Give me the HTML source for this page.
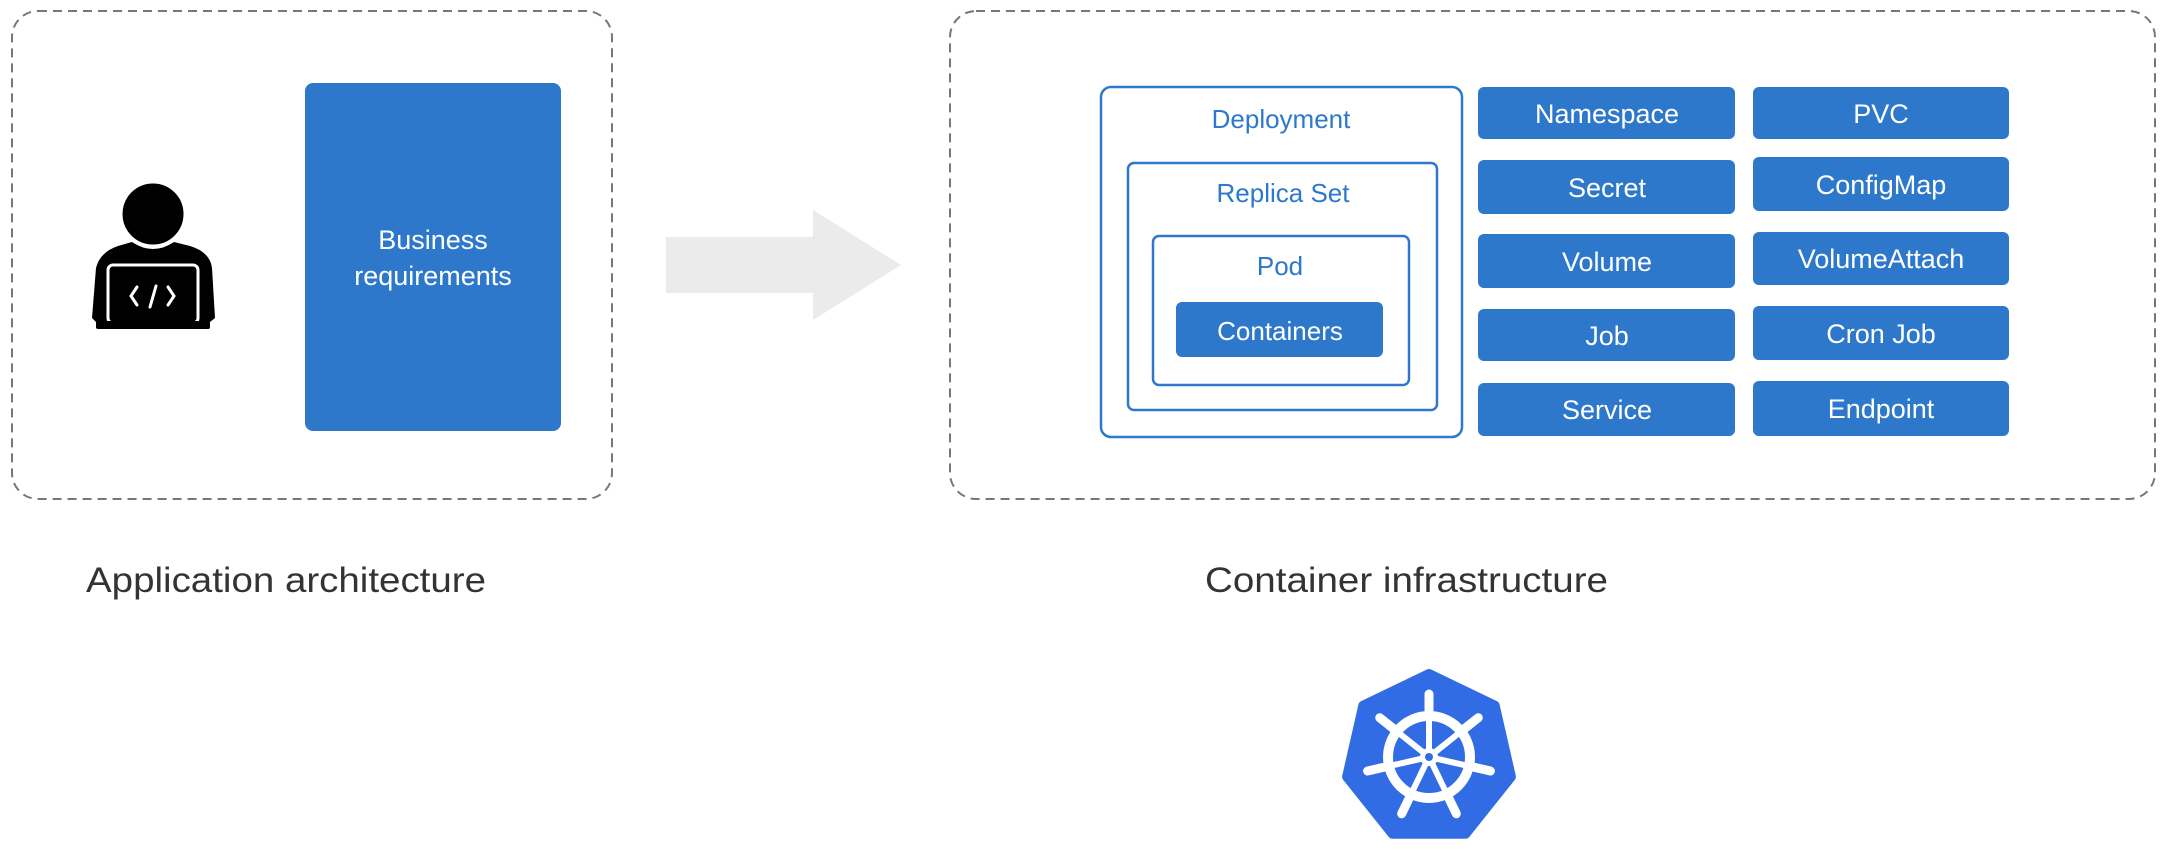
<!DOCTYPE html>
<html><head><meta charset="utf-8"><style>
html,body{margin:0;padding:0;background:#fff;}
body{width:2162px;height:848px;overflow:hidden;}
svg text{font-family:"Liberation Sans",sans-serif;}
</style></head><body>
<svg width="2162" height="848" viewBox="0 0 2162 848" xmlns="http://www.w3.org/2000/svg">
<rect x="12" y="11" width="600" height="488" rx="26" fill="none" stroke="#777" stroke-width="2" stroke-dasharray="9,6"/>
<rect x="950" y="11" width="1205" height="488" rx="26" fill="none" stroke="#777" stroke-width="2" stroke-dasharray="9,6"/>

<circle cx="153" cy="214" r="32" fill="#000" stroke="#fff" stroke-width="3"/>
<path d="M92,318 L96,268 Q100,252 118,246 L132,242 Q153,256 174,242 L190,246 Q210,252 212,268 L215,318 L205,326 L100,326 Z" fill="#000"/>
<rect x="108" y="265" width="90" height="58" rx="5" fill="#000" stroke="#fff" stroke-width="3"/>
<rect x="96" y="321" width="114" height="8" rx="2" fill="#000"/>
<g stroke="#fff" stroke-width="3" fill="none" stroke-linecap="round">
<polyline points="137,287 131,296 137,305"/>
<line x1="156" y1="286" x2="150" y2="307"/>
<polyline points="168,287 174,296 168,305"/>
</g>

<rect x="305" y="83" width="256" height="348" rx="8" fill="#2e78cb"/>
<text x="433" y="249" font-size="27" fill="#fff" text-anchor="middle">Business</text>
<text x="433" y="285" font-size="27" fill="#fff" text-anchor="middle">requirements</text>

<polygon points="666,237 813,237 813,210 901,265 813,320 813,293 666,293" fill="#ebebeb"/>

<text x="86" y="592" font-size="35" fill="#333" textLength="400" lengthAdjust="spacingAndGlyphs">Application architecture</text>
<text x="1205" y="592" font-size="35" fill="#333" textLength="403" lengthAdjust="spacingAndGlyphs">Container infrastructure</text>

<g fill="none" stroke="#2e78cb" stroke-width="2.5">
<rect x="1101" y="87" width="361" height="350" rx="10"/>
<rect x="1128" y="163" width="309" height="247" rx="6"/>
<rect x="1153" y="236" width="256" height="149" rx="6"/>
</g>
<g font-size="26" fill="#2e78cb" text-anchor="middle">
<text x="1281" y="128">Deployment</text>
<text x="1283" y="202">Replica Set</text>
<text x="1280" y="275">Pod</text>
</g>
<rect x="1176" y="302" width="207" height="55" rx="6" fill="#2e78cb"/>
<text x="1280" y="340" font-size="26" fill="#fff" text-anchor="middle">Containers</text>

<g fill="#2e78cb">
<rect x="1478" y="87" width="257" height="52" rx="6"/>
<rect x="1478" y="160" width="257" height="54" rx="6"/>
<rect x="1478" y="234" width="257" height="54" rx="6"/>
<rect x="1478" y="309" width="257" height="52" rx="6"/>
<rect x="1478" y="383" width="257" height="53" rx="6"/>
<rect x="1753" y="87" width="256" height="52" rx="6"/>
<rect x="1753" y="157" width="256" height="54" rx="6"/>
<rect x="1753" y="232" width="256" height="53" rx="6"/>
<rect x="1753" y="306" width="256" height="54" rx="6"/>
<rect x="1753" y="381" width="256" height="55" rx="6"/>
</g>
<g font-size="27" fill="#fff" text-anchor="middle">
<text x="1607" y="123">Namespace</text>
<text x="1607" y="197">Secret</text>
<text x="1607" y="271">Volume</text>
<text x="1607" y="345">Job</text>
<text x="1607" y="419">Service</text>
<text x="1881" y="123">PVC</text>
<text x="1881" y="194">ConfigMap</text>
<text x="1881" y="268">VolumeAttach</text>
<text x="1881" y="343">Cron Job</text>
<text x="1881" y="418">Endpoint</text>
</g>

<g transform="translate(1429,758)">
<polygon points="0,-84 65.7,-52.4 81.9,18.7 36.4,75.7 -36.4,75.7 -81.9,18.7 -65.7,-52.4" fill="#326ce5" stroke="#326ce5" stroke-width="10" stroke-linejoin="round"/>
<g transform="translate(0,-1)">
<circle r="41" fill="none" stroke="#fff" stroke-width="10"/>
<g stroke="#fff" stroke-linecap="round">
<g id="sp">
<line x1="0" y1="-6" x2="0" y2="-42" stroke-width="6"/>
<line x1="0" y1="-44" x2="0" y2="-63" stroke-width="9"/>
</g>
<use href="#sp" transform="rotate(51.43)"/>
<use href="#sp" transform="rotate(102.86)"/>
<use href="#sp" transform="rotate(154.29)"/>
<use href="#sp" transform="rotate(205.71)"/>
<use href="#sp" transform="rotate(257.14)"/>
<use href="#sp" transform="rotate(308.57)"/>
</g>
<circle r="9" fill="#fff"/>
<circle r="4" fill="#326ce5"/>
</g>
</g>
</svg>
</body></html>
